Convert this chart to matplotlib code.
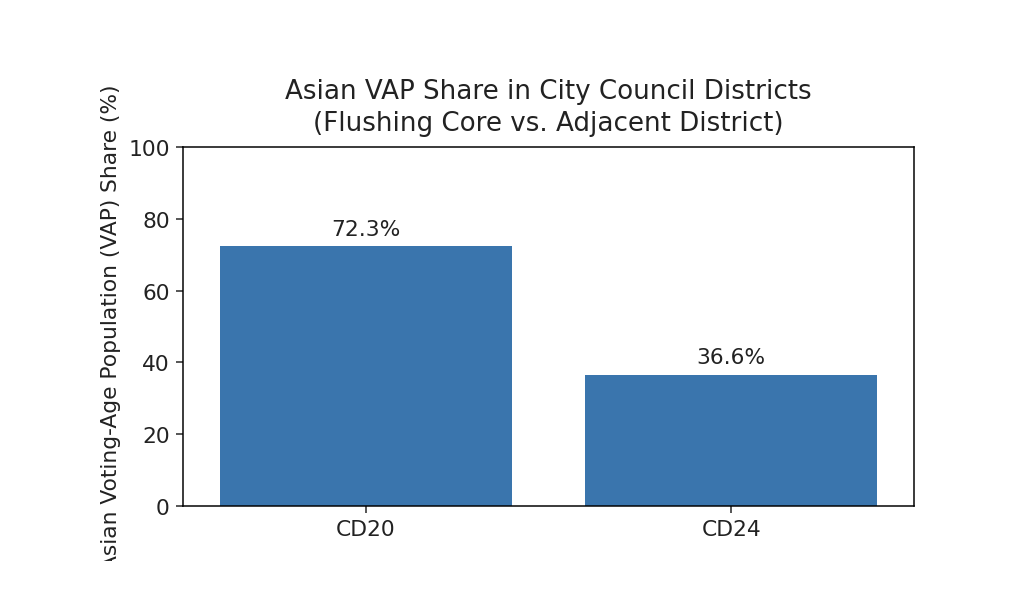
import matplotlib
matplotlib.use("Agg")
import matplotlib.pyplot as plt
from matplotlib.transforms import Bbox, TransformedBbox

# donnees
districts = ["CD20", "CD24"]
asian_vap_share = [72.3, 36.6]

plt.rcParams["font.size"] = 11.6

fig = plt.figure(figsize=(1024 / 135, 613 / 135), dpi=135)
ax = fig.add_axes([0.1787, 0.1729, 0.7139, 0.5857])

bars = ax.bar(districts, asian_vap_share, color="#3a75ad", width=0.8)
for b, v in zip(bars, asian_vap_share):
    ax.annotate(f"{v:.1f}%", (b.get_x() + b.get_width() / 2, v),
                xytext=(0, 4), textcoords="offset points",
                ha="center", va="bottom", color="#222222")

ax.set_ylim(0, 100)
ax.set_xlim(-0.5, 1.5)
ax.set_title("Asian VAP Share in City Council Districts\n(Flushing Core vs. Adjacent District)",
             color="#222222", pad=9, linespacing=1.3)
lab = ax.set_ylabel("Asian Voting-Age Population (VAP) Share (%)", color="#222222")
ax.tick_params(colors="#222222")

# le label est coupe en bas comme dans l'original
lab.set_clip_box(TransformedBbox(Bbox([[0, 51 / 613], [1, 1]]), fig.transFigure))
lab.set_clip_on(True)

fig.savefig("out.png", dpi=135, facecolor="white")
